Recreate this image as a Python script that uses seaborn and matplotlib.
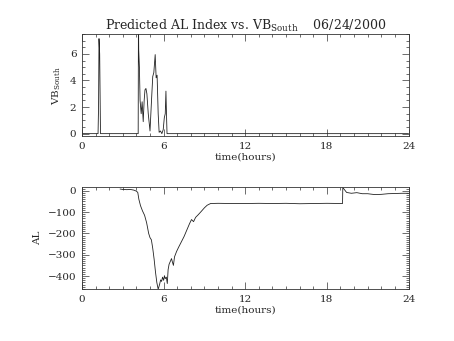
import numpy as np
import pandas as pd
import matplotlib
matplotlib.use("Agg")
import matplotlib.pyplot as plt
from matplotlib.ticker import MultipleLocator
import seaborn as sns

# ---- data ----
vb_time = [0, 1.18, 1.22, 1.25, 1.30, 1.36, 4.13, 4.15, 4.17, 4.22, 4.27, 4.35,
           4.42, 4.50, 4.57, 4.63, 4.70, 4.77, 4.87, 5.00, 5.10, 5.20, 5.28,
           5.38, 5.45, 5.52, 5.60, 5.67, 5.77, 5.87, 5.97, 6.05, 6.12, 6.17,
           6.21, 6.25, 24]
vb_south = [0, 0, 2.2, 7.15, 6.0, 0, 0, 9.0, 6.3, 5.0, 2.5, 1.5,
            2.4, 0.9, 2.5, 3.3, 3.4, 3.0, 1.5, 0.2, 2.3, 4.3, 4.6,
            5.95, 4.2, 4.4, 1.5, 0.1, 0.2, 0, 0.3, 1.2, 1.5, 3.2,
            1.5, 0, 0]

al_time = [2.8, 3.0, 3.3, 3.55, 3.8, 4.0, 4.1, 4.18, 4.3, 4.45, 4.6, 4.75,
           4.9, 5.0, 5.1, 5.2, 5.3, 5.4, 5.5, 5.6, 5.7, 5.78, 5.85, 5.92,
           6.0, 6.06, 6.12, 6.2, 6.27, 6.33, 6.4, 6.5, 6.58, 6.65, 6.72,
           6.8, 6.95, 7.1, 7.3, 7.5, 7.7, 7.9, 8.05, 8.2, 8.35, 8.55, 8.75,
           9.0, 9.2, 9.45, 10.0, 11.0, 12.0, 13.0, 14.0, 15.0, 16.0, 17.0,
           18.0, 19.15, 19.17, 19.45, 19.8, 20.2, 20.6, 21.0, 21.5, 22.0,
           22.5, 23.0, 23.5, 24.0]
al_index = [8, 6, 5, 6, 3, -2, -8, -40, -70, -95, -115, -150,
            -200, -220, -230, -270, -320, -380, -430, -462, -440, -418, -425, -405,
            -420, -398, -412, -405, -435, -370, -345, -330, -318, -335, -350,
            -310, -285, -265, -240, -215, -185, -155, -135, -145, -125, -112, -98,
            -80, -68, -60, -59, -60, -60, -59, -60, -59, -61, -60,
            -59, -60, 15, -8, -12, -9, -14, -14, -18, -17,
            -14, -13, -12, -12]

x_ticks = [0, 6, 12, 18, 24]

sns.set_style("ticks")
plt.rcParams['font.family'] = ['DejaVu Serif']
plt.rcParams['mathtext.fontset'] = 'dejavuserif'

fig = plt.figure(figsize=(4.54, 3.41), dpi=100)
ax1 = fig.add_axes([0.1806, 0.6003, 0.7192, 0.3000])
ax2 = fig.add_axes([0.1806, 0.1516, 0.7192, 0.2991])

df_vb = pd.DataFrame({"time": vb_time, "vb": vb_south})
df_al = pd.DataFrame({"time": al_time, "al": al_index})

line_col = "#222222"
sns.lineplot(data=df_vb, x="time", y="vb", ax=ax1, color=line_col, lw=0.6,
             estimator=None, sort=False)
sns.lineplot(data=df_al, x="time", y="al", ax=ax2, color=line_col, lw=0.6,
             estimator=None, sort=False)

fs = 7.5
for ax in (ax1, ax2):
    ax.set_xlim(0, 24)
    ax.set_xticks(x_ticks)
    ax.xaxis.set_minor_locator(MultipleLocator(1))
    ax.tick_params(which="both", direction="in", top=True, right=True,
                   labelsize=fs, width=0.5, color="#333333", pad=4)
    ax.tick_params(which="major", length=5)
    ax.tick_params(which="minor", length=2.5)
    ax.set_xlabel("time(hours)", fontsize=fs, labelpad=1)
    for s in ax.spines.values():
        s.set_linewidth(0.6)
        s.set_color("#333333")

ax1.set_ylim(-0.2, 7.5)
ax1.set_yticks([0, 2, 4, 6])
ax1.yaxis.set_minor_locator(MultipleLocator(0.5))
ax1.set_ylabel(r"VB$_{\mathregular{South}}$", fontsize=fs, labelpad=5)
ax1.set_title(r"Predicted AL Index vs. VB$_{\mathregular{South}}$    06/24/2000",
              fontsize=9, pad=3)

ax2.set_ylim(-462, 16)
ax2.set_yticks([0, -100, -200, -300, -400])
ax2.yaxis.set_minor_locator(MultipleLocator(10))
ax2.set_ylabel("AL", fontsize=fs, labelpad=4)

fig.savefig("out.png", dpi=100)
